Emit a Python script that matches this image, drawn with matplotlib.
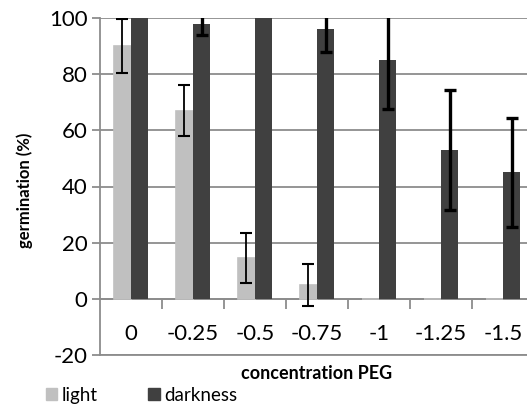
import numpy as np
import matplotlib
matplotlib.use("Agg")
import matplotlib.pyplot as plt
from matplotlib.patches import Patch

categories = ["0", "-0.25", "-0.5", "-0.75", "-1", "-1.25", "-1.5"]
light = [90, 67, 14.5, 5, 0, 0, 0]
light_err = [9.5, 9, 9, 7.5, 0, 0, 0]
darkness = [100, 98, 100, 96, 85, 53, 45]
darkness_err = [0, 4, 0, 8, 17.5, 21.5, 19.5]

c_light = "#c0c0c0"
c_dark = "#404040"
c_grid = "#8c8c8c"

plt.rcParams["font.family"] = ["Lato", "DejaVu Sans"]
plt.rcParams["axes.unicode_minus"] = False

fig = plt.figure(figsize=(5.27, 4.04), dpi=100)
ax = fig.add_axes([100 / 527, 1 - 355 / 404, 434 / 527, 337 / 404])

x = np.arange(len(categories))
w = 0.27

ax.bar(x - w / 2 - 0.005, light, w, color=c_light, edgecolor=c_light, linewidth=1.2, zorder=3)
ax.bar(x + w / 2 + 0.005, darkness, w, color=c_dark, zorder=3)

li = [i for i in range(len(x)) if light_err[i] > 0]
ax.errorbar(x[li] - w / 2 - 0.005, np.array(light)[li], yerr=np.array(light_err)[li],
            fmt="none", ecolor="black", elinewidth=1.3, capsize=4, capthick=1.5, zorder=4)
di = [i for i in range(len(x)) if darkness_err[i] > 0]
ax.errorbar(x[di] + w / 2 + 0.005, np.array(darkness)[di], yerr=np.array(darkness_err)[di],
            fmt="none", ecolor="black", elinewidth=2.4, capsize=4, capthick=2.4, zorder=4)

ax.set_xlim(-0.5, 6.5)
ax.set_ylim(-20, 100)
ax.set_yticks(np.arange(-20, 101, 20))
ax.yaxis.grid(True, color=c_grid, linewidth=1.3, zorder=0)
ax.tick_params(axis="y", length=6, width=1.3, color=c_grid, labelsize=16, pad=3)

for s in ["top", "right"]:
    ax.spines[s].set_visible(False)
ax.spines["left"].set_color(c_grid)
ax.spines["left"].set_linewidth(1.3)
ax.spines["bottom"].set_position(("data", 0))
ax.spines["bottom"].set_color(c_grid)
ax.spines["bottom"].set_linewidth(1.3)
ax.axhline(-20, color=c_grid, linewidth=1.3, clip_on=False, zorder=1)

ax.set_xticks(np.arange(0.5, 6.5, 1))
ax.set_xticklabels([])
ax.tick_params(axis="x", which="major", length=7, width=1.3, color=c_grid)
ax.set_xticks(x, minor=True)
ax.set_xticklabels(categories, minor=True)
ax.tick_params(axis="x", which="minor", length=0, labelsize=16, pad=18)

ax.set_ylabel("germination (%)", fontsize=12, fontweight="bold")
ax.yaxis.set_label_coords(-0.155, 0.49)
ax.text(217 / 434, -0.03, "concentration PEG", transform=ax.transAxes,
        ha="center", va="top", fontsize=13, fontweight="bold")

handles = [Patch(color=c_light, label="light"), Patch(color=c_dark, label="darkness")]
fig.legend(handles=handles, loc="lower left", bbox_to_anchor=(0.087, 0.0), ncol=2,
           frameon=False, fontsize=13.5, handlelength=0.6, handleheight=0.6,
           handletextpad=0.25, columnspacing=2.7, borderpad=0.0, borderaxespad=0.0)

fig.savefig("out.png", dpi=100)
